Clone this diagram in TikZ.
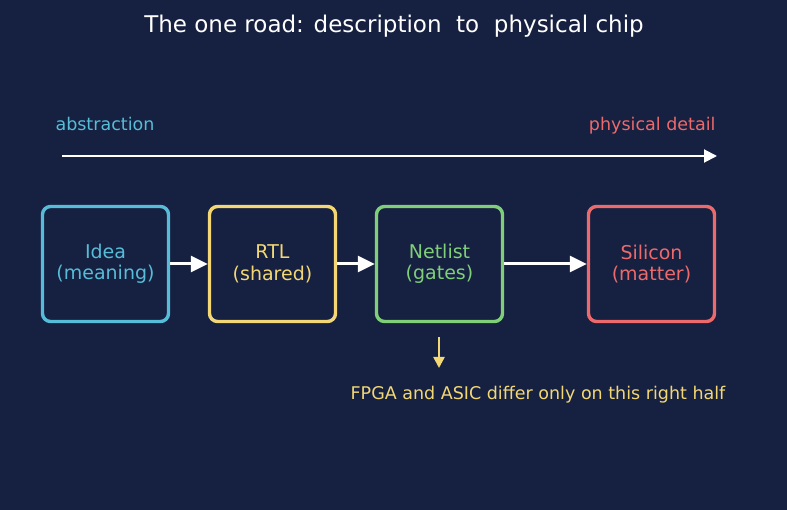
\documentclass[tikz,border=0pt]{standalone}
\usepackage{fontspec}
\setmainfont{DejaVu Sans}
\usetikzlibrary{arrows.meta}
\definecolor{bg}{HTML}{162040}
\definecolor{ccyan}{HTML}{56BCD8}
\definecolor{cyel}{HTML}{F2D774}
\definecolor{cgreen}{HTML}{7FCF78}
\definecolor{cred}{HTML}{EC6A6C}
\tikzset{
  stage/.style={draw=#1, text=#1, line width=3.4pt, rounded corners=8pt, minimum width=126pt, minimum height=115pt, align=center, font=\fontsize{19}{21.5}\selectfont, fill=bg},
  flow/.style={draw=white, line width=3pt, -{Triangle[length=17pt,width=16pt]}},
}
\begin{document}
\begin{tikzpicture}[x=1pt,y=-1pt]
\fill[bg] (0,0) rectangle (787,510);
\useasboundingbox (0,0) rectangle (787,510);
\node[text=white, font=\fontsize{23}{27}\selectfont] (title) at (394,26) {The one road: description\ \ to\ \ physical chip};
\node[text=ccyan, font=\fontsize{17.5}{21}\selectfont, anchor=west] (abs) at (52,124) {abstraction};
\node[text=cred, font=\fontsize{17.5}{21}\selectfont, anchor=east] (phys) at (719,126) {physical detail};
\coordinate (a0) at (62,156);
\coordinate (a1) at (717,156);
\draw[white, line width=2pt, -{Triangle[length=13pt,width=13pt]}] (a0) -- (a1);
\node[stage=ccyan] (idea) at (105.5,264) {Idea\\(meaning)};
\node[stage=cyel] (rtl) at (272.5,264) {RTL\\(shared)};
\node[stage=cgreen] (net) at (439.5,264) {Netlist\\(gates)};
\node[stage=cred] (sil) at (651.5,264) {Silicon\\(matter)};
\draw[flow] (idea) -- (rtl);
\draw[flow] (rtl) -- (net);
\draw[flow] (net) -- (sil);
\coordinate (d0) at (439,337);
\coordinate (d1) at (439,368);
\draw[cyel, line width=2.4pt, -{Triangle[length=11pt,width=11pt]}] (d0) -- (d1);
\node[text=cyel, font=\fontsize{17.5}{21}\selectfont] (note) at (538,395) {FPGA and ASIC differ only on this right half};
\end{tikzpicture}
\end{document}
